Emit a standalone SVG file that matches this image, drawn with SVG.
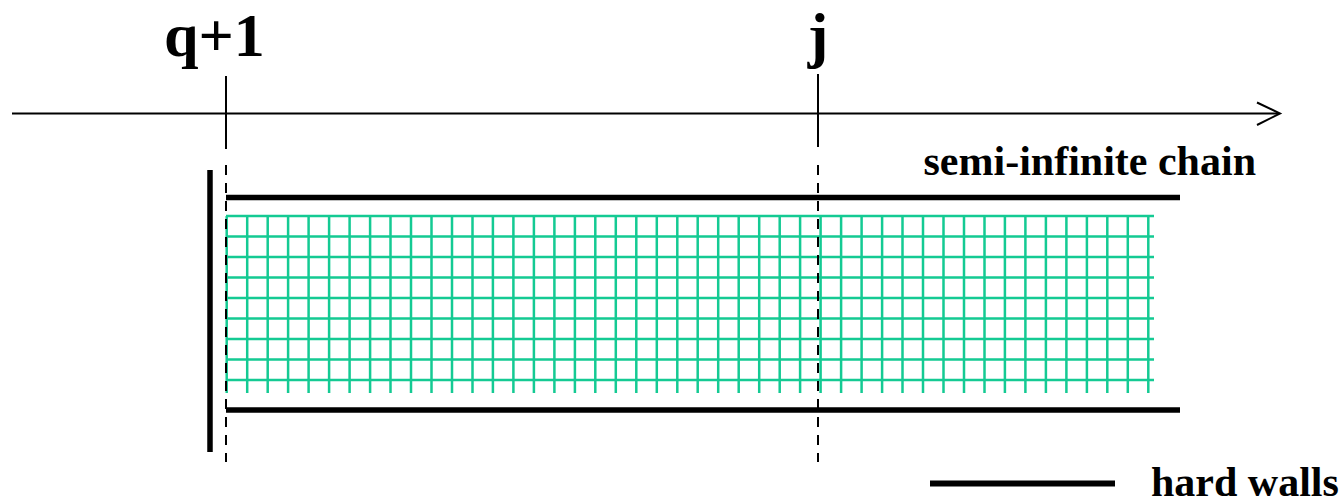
<svg xmlns="http://www.w3.org/2000/svg" width="1342" height="503" viewBox="0 0 1342 503">
<style>
.lbl{font-family:"Liberation Serif","Times New Roman",serif;font-weight:bold;fill:#000}
.thin{stroke:#000;stroke-width:2;fill:none}
.dash{stroke:#000;stroke-width:2;stroke-dasharray:10,8;fill:none}
.wall{stroke:#000;stroke-width:5.5;fill:none}
.grid{stroke:#14ca93;stroke-width:2.5;fill:none}
</style>
<rect width="1342" height="503" fill="#fff"/>
<g id="grid">
<path class="grid" d="M226 216H1154M226 236.5H1154M226 257H1154M226 277.5H1154M226 298H1154M226 318.5H1154M226 339H1154M226 359.5H1154M226 380H1154"/>
<path class="grid" d="M226.7 216V393M247.2 216V393M267.7 216V393M288.1 216V393M308.6 216V393M329.1 216V393M349.6 216V393M370.1 216V393M390.5 216V393M411 216V393M431.5 216V393M452 216V393M472.5 216V393M492.9 216V393M513.4 216V393M533.9 216V393M554.4 216V393M574.9 216V393M595.3 216V393M615.8 216V393M636.3 216V393M656.8 216V393M677.3 216V393M697.7 216V393M718.2 216V393M738.7 216V393M759.2 216V393M779.7 216V393M800.1 216V393M820.6 216V393M841.1 216V393M861.6 216V393M882.1 216V393M902.5 216V393M923 216V393M943.5 216V393M964 216V393M984.5 216V393M1004.9 216V393M1025.4 216V393M1045.9 216V393M1066.4 216V393M1086.9 216V393M1107.3 216V393M1127.8 216V393M1148.3 216V393"/>
</g>
<g id="walls">
<line class="wall" x1="210" y1="170" x2="210" y2="452"/>
<line class="wall" x1="226" y1="197.5" x2="1180" y2="197.5"/>
<line class="wall" x1="226" y1="410" x2="1180" y2="410"/>
</g>
<g id="connectors">
<line class="thin" x1="12" y1="113.5" x2="1279" y2="113.5"/>
<polyline class="thin" points="1257,102.5 1280,113.5 1257,125"/>
<line class="thin" x1="226" y1="76" x2="226" y2="149"/>
<line class="dash" x1="226" y1="165" x2="226" y2="462"/>
<line class="thin" x1="818" y1="74" x2="818" y2="147"/>
<line class="dash" x1="818" y1="165" x2="818" y2="462"/>
</g>
<g id="labels">
<text class="lbl" x="164" y="55.5" font-size="62">q+1</text>
<text class="lbl" x="818" y="55.5" font-size="62" text-anchor="middle">j</text>
<text class="lbl" x="1256" y="175" font-size="42" text-anchor="end">semi-infinite chain</text>
</g>
<g id="legend">
<line class="wall" x1="930" y1="483.5" x2="1115" y2="483.5" style="stroke-width:6"/>
<text class="lbl" x="1151" y="496" font-size="42">hard walls</text>
</g>
</svg>
